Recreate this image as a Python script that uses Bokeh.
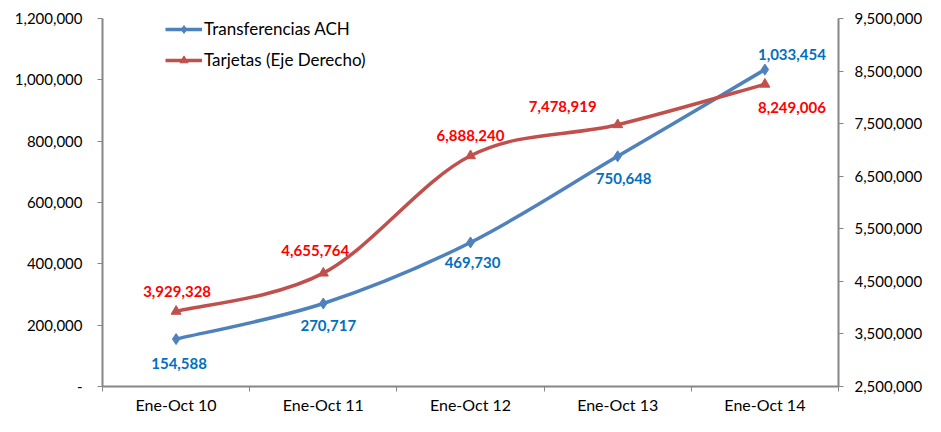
from bokeh.plotting import figure
from bokeh.models import (Range1d, LinearAxis, FixedTicker, ColumnDataSource,
                          Legend, LegendItem, NumeralTickFormatter)
from bokeh.core.properties import value
from bokeh.embed import file_html
from bokeh.resources import INLINE

categories = ["Ene-Oct 10", "Ene-Oct 11", "Ene-Oct 12", "Ene-Oct 13", "Ene-Oct 14"]
ach = [154588, 270717, 469730, 750648, 1033454]
tarjetas = [3929328, 4655764, 6888240, 7478919, 8249006]
left_ticks = [0, 200000, 400000, 600000, 800000, 1000000, 1200000]
right_ticks = [2500000, 3500000, 4500000, 5500000, 6500000, 7500000, 8500000, 9500000]

# label offsets (screen px)
ach_dx = [3, 5, 2, 6, 27]
ach_dy = [24, 22, 20, 22, -15]
tar_dx = [1, -8, 0, -55, 27]
tar_dy = [-20, -23, -20, -18, 23]

FONT = "Lato"
BLUE = "#4F81BD"
RED = "#C0504D"
AXIS = "#868686"
NAN = float("nan")

xs = list(range(len(categories)))

p = figure(width=925, height=416, output_backend="svg", toolbar_location=None,
           x_range=Range1d(-0.5, len(categories) - 0.5),
           y_range=Range1d(0, 1200000),
           min_border_left=102, min_border_right=85, min_border_top=18, min_border_bottom=28)
p.extra_y_ranges = {"right": Range1d(2500000, 9500000)}
p.outline_line_color = None
p.xgrid.visible = False
p.ygrid.visible = False
p.background_fill_color = "white"
p.border_fill_color = "white"

# x axis
xa = p.xaxis[0]
xa.ticker = FixedTicker(ticks=xs, minor_ticks=[x - 0.5 for x in xs] + [xs[-1] + 0.5])
xa.major_label_overrides = {i: c for i, c in enumerate(categories)}
xa.major_tick_line_color = None
xa.major_tick_out = 5
xa.major_tick_in = 0
xa.minor_tick_out = 5
xa.minor_tick_in = 0
xa.minor_tick_line_color = AXIS
xa.minor_tick_line_width = 1
xa.axis_line_color = AXIS
xa.axis_line_width = 2
xa.major_label_text_font = FONT
xa.major_label_text_font_size = "16px"
xa.major_label_text_color = "black"
xa.major_label_standoff = 3

# left axis
ya = p.yaxis[0]
ya.ticker = FixedTicker(ticks=left_ticks)
ya.formatter = NumeralTickFormatter(format="0,0")
ya.major_label_overrides = {0: "-"}
ya.minor_tick_line_color = None
ya.major_tick_out = 5
ya.major_tick_in = 0
ya.major_tick_line_color = AXIS
ya.axis_line_color = AXIS
ya.axis_line_width = 2
ya.major_label_text_font = FONT
ya.major_label_text_font_size = "15px"
ya.major_label_text_color = "black"
ya.major_label_standoff = 15

# right axis
ra = LinearAxis(y_range_name="right", ticker=FixedTicker(ticks=right_ticks),
                formatter=NumeralTickFormatter(format="0,0"))
ra.minor_tick_line_color = None
ra.major_tick_out = 5
ra.major_tick_in = 0
ra.major_tick_line_color = AXIS
ra.axis_line_color = AXIS
ra.axis_line_width = 2
ra.major_label_text_font = FONT
ra.major_label_text_font_size = "15px"
ra.major_label_text_color = "black"
ra.major_label_standoff = 11
p.add_layout(ra, "right")


def smooth_segments(x, y):
    n = len(x)
    seg = dict(x0=[], y0=[], x1=[], y1=[], cx0=[], cy0=[], cx1=[], cy1=[])
    for i in range(n - 1):
        im1 = max(i - 1, 0)
        ip2 = min(i + 2, n - 1)
        seg["x0"].append(x[i]); seg["y0"].append(y[i])
        seg["x1"].append(x[i + 1]); seg["y1"].append(y[i + 1])
        seg["cx0"].append(x[i] + (x[i + 1] - x[im1]) / 6)
        seg["cy0"].append(y[i] + (y[i + 1] - y[im1]) / 6)
        seg["cx1"].append(x[i + 1] - (x[ip2] - x[i]) / 6)
        seg["cy1"].append(y[i + 1] - (y[ip2] - y[i]) / 6)
    return ColumnDataSource(seg)


p.bezier(x0="x0", y0="y0", x1="x1", y1="y1", cx0="cx0", cy0="cy0", cx1="cx1", cy1="cy1",
         source=smooth_segments(xs, ach), line_color=BLUE, line_width=3.5)
p.bezier(x0="x0", y0="y0", x1="x1", y1="y1", cx0="cx0", cy0="cy0", cx1="cx1", cy1="cy1",
         source=smooth_segments(xs, tarjetas), line_color=RED, line_width=3.5,
         y_range_name="right")

s_ach = p.scatter(xs, ach, marker="diamond", size=11, fill_color=BLUE, line_color=BLUE)
s_tar = p.scatter(xs, tarjetas, marker="triangle", size=10, fill_color=RED, line_color=RED,
                  y_range_name="right")

# legend proxies (lines with no drawable points)
l_ach = p.line(x=[NAN, NAN], y=[NAN, NAN], line_color=BLUE, line_width=3.5)
l_tar = p.line(x=[NAN, NAN], y=[NAN, NAN], line_color=RED, line_width=3.5)

lab_ach = ColumnDataSource(dict(x=xs, y=ach, t=[f"{v:,}" for v in ach], dx=ach_dx, dy=ach_dy))
lab_tar = ColumnDataSource(dict(x=xs, y=tarjetas, t=[f"{v:,}" for v in tarjetas], dx=tar_dx, dy=tar_dy))
p.text(x="x", y="y", text="t", x_offset="dx", y_offset="dy", source=lab_ach,
       text_font=value(FONT), text_font_size="15px", text_font_style="bold",
       text_color="#0070C0", text_align="center", text_baseline="middle")
p.text(x="x", y="y", text="t", x_offset="dx", y_offset="dy", source=lab_tar,
       text_font=value(FONT), text_font_size="15px", text_font_style="bold",
       text_color="#FF0000", text_align="center", text_baseline="middle",
       y_range_name="right")

legend = Legend(items=[
    LegendItem(label="Transferencias ACH", renderers=[l_ach, s_ach]),
    LegendItem(label="Tarjetas (Eje Derecho)", renderers=[l_tar, s_tar]),
], location=(63, 316))
legend.border_line_color = None
legend.background_fill_alpha = 0
legend.padding = 0
legend.margin = 0
legend.spacing = 10
legend.glyph_width = 37
legend.glyph_height = 20
legend.label_height = 20
legend.label_standoff = 2
legend.label_text_font = FONT
legend.label_text_font_size = "17px"
legend.label_text_color = "black"
p.add_layout(legend, "center")

open("out.html", "w").write(file_html(p, INLINE))
